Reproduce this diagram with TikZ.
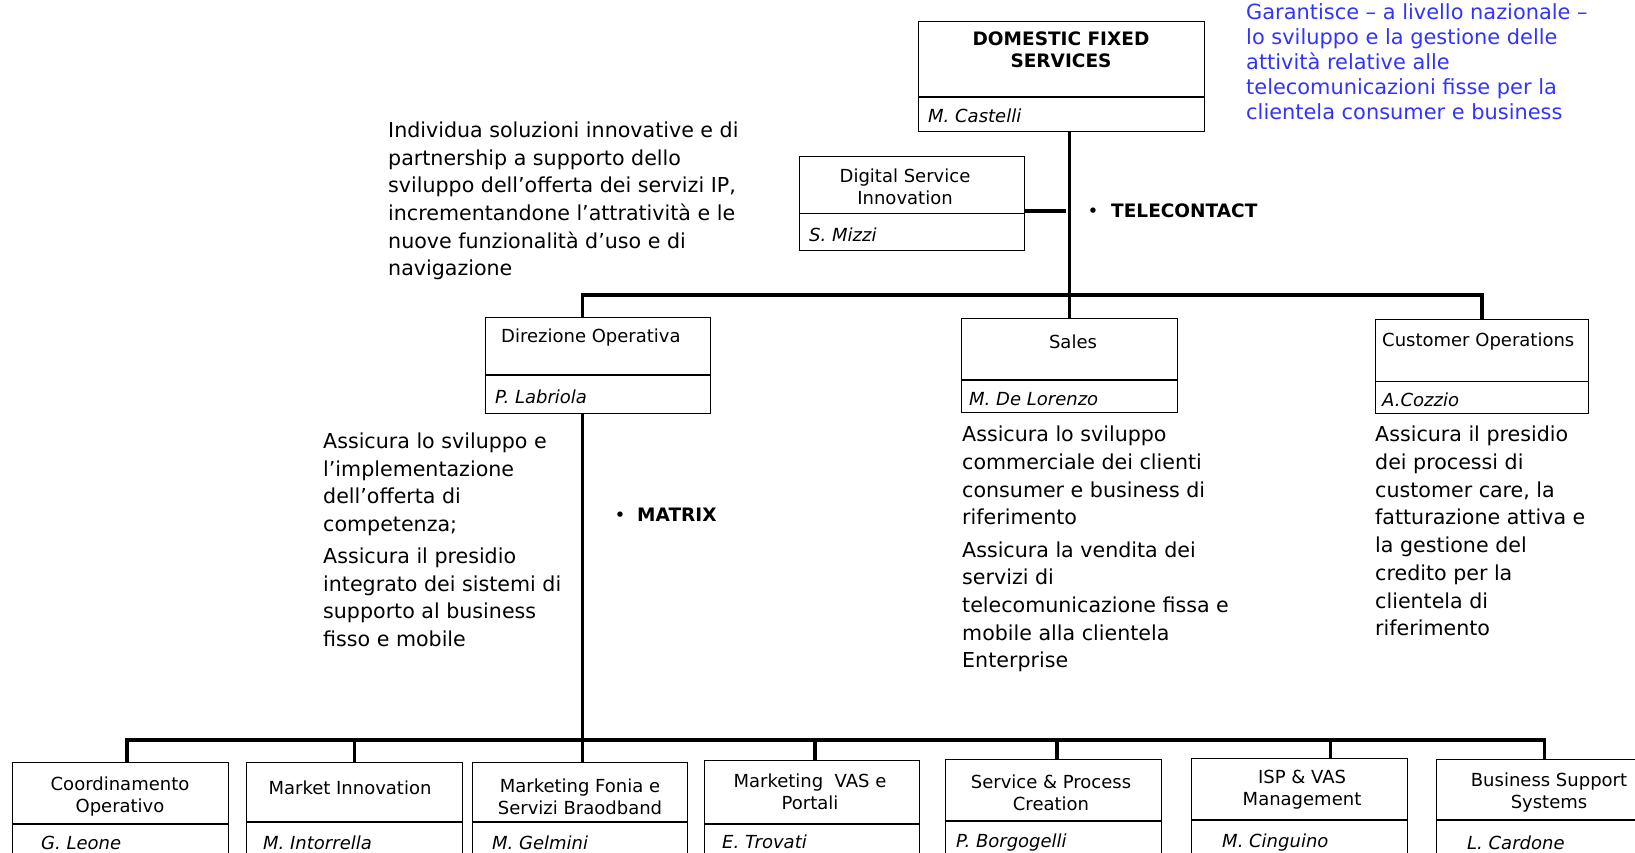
\documentclass[tikz,border=0pt]{standalone}
\usepackage{fontspec}
\setmainfont{DejaVu Sans}
\definecolor{notablue}{RGB}{51,51,255}

\begin{document}
\begin{tikzpicture}[x=1pt,y=-1pt,
  unit/.style={draw,line width=1.3pt,anchor=north west,inner sep=0pt,minimum width=216pt},
  rule/.style={line width=1.3pt},
  link/.style={line width=3.6pt},
  title/.style={font=\fontsize{18}{22}\selectfont,align=center,inner sep=0pt},
  who/.style={font=\fontsize{18}{22}\selectfont\itshape,anchor=west,inner sep=0pt},
  desc/.style={font=\fontsize{20.6}{27.7}\selectfont,align=left,anchor=north west,inner sep=0pt},
  tag/.style={font=\fontsize{18.5}{22}\selectfont\bfseries,anchor=west,inner sep=0pt}]
\useasboundingbox (0,0) rectangle (1635,852);
\clip (0,0) rectangle (1635,852);

% Top unit
\node[unit,minimum width=286pt,minimum height=110pt] (dfs) at (918,21) {};
\draw[rule] (918,97) -- (1204,97);
\node[title,font=\fontsize{18.5}{22}\selectfont\bfseries] (dfst) at (1061,49.5) {DOMESTIC FIXED\\SERVICES};
\node[who] (dfsn) at (928,115.5) {M. Castelli};
\node[desc,font=\fontsize{20.9}{25}\selectfont,text=notablue] (dfsd) at (1246,3.3)
  {Garantisce – a livello nazionale –\\lo sviluppo e la gestione delle\\attività relative alle\\telecomunicazioni fisse per la\\clientela consumer e business};

% Staff unit
\node[unit,minimum width=224.5pt,minimum height=94pt] (dsi) at (799,156) {};
\draw[rule] (799,213.5) -- (1023.5,213.5);
\node[title] (dsit) at (905,187) {Digital Service\\Innovation};
\node[who] (dsin) at (809,234.5) {S. Mizzi};
\node[desc] (dsid) at (388,121.6)
  {Individua soluzioni innovative e di\\partnership a supporto dello\\sviluppo dell’offerta dei servizi IP,\\incrementandone l’attratività e le\\nuove funzionalità d’uso e di\\navigazione};
\node[tag] (telecontact) at (1087.5,210.7) {{\mdseries\textbullet}\hspace{12.6pt}TELECONTACT};

% Second level
\node[unit,minimum width=225pt,minimum height=96pt] (diro) at (485,317) {};
\draw[rule] (485,375) -- (710,375);
\node[title,anchor=west] (dirot) at (501,338) {Direzione Operativa};
\node[who] (diron) at (495,397) {P. Labriola};
\node[desc,font=\fontsize{20.6}{27.4}\selectfont] (dirod) at (323,433)
  {Assicura lo sviluppo e\\l’implementazione\\dell’offerta di\\competenza;\\[5.5pt]Assicura il presidio\\integrato dei sistemi di\\supporto al business\\fisso e mobile};
\node[tag] (matrix) at (614.5,515) {{\mdseries\textbullet}\hspace{11.6pt}MATRIX};

\node[unit,minimum height=93.5pt] (sales) at (961,318) {};
\draw[rule] (961,380) -- (1177,380);
\node[title] (salest) at (1073,342) {Sales};
\node[who] (salesn) at (969,399) {M. De Lorenzo};
\node[desc] (salesd) at (962,426)
  {Assicura lo sviluppo\\commerciale dei clienti\\consumer e business di\\riferimento\\[4.5pt]Assicura la vendita dei\\servizi di\\telecomunicazione fissa e\\mobile alla clientela\\Enterprise};

\node[unit,minimum width=213pt,minimum height=94pt] (custops) at (1375,319) {};
\draw[rule] (1375,381.5) -- (1588,381.5);
\node[title,anchor=west] (custopst) at (1382,342) {Customer Operations};
\node[who] (custopsn) at (1382,400) {A.Cozzio};
\node[desc] (custopsd) at (1375,426)
  {Assicura il presidio\\dei processi di\\customer care, la\\fatturazione attiva e\\la gestione del\\credito per la\\clientela di\\riferimento};

% Third level
\node[unit,minimum height=100pt] (coord) at (11.5,762) {};
\draw[rule] (11.5,824) -- (227.5,824);
\node[title] (coordt) at (120,797) {Coordinamento\\Operativo};
\node[who] (coordn) at (41,842.5) {G. Leone};

\node[unit,minimum height=100pt] (mktinn) at (246,762) {};
\draw[rule] (246,822) -- (462,822);
\node[title] (mktinnt) at (350,788) {Market Innovation};
\node[who] (mktinnn) at (263,842.5) {M. Intorrella};

\node[unit,minimum width=215pt,minimum height=100pt] (fonia) at (472,762) {};
\draw[rule] (472,822) -- (687,822);
\node[title] (foniat) at (580,797) {Marketing Fonia e\\Servizi Braodband};
\node[who] (fonian) at (492,842.5) {M. Gelmini};

\node[unit,minimum width=215pt,minimum height=100pt] (vas) at (704,760) {};
\draw[rule] (704,824) -- (919,824);
\node[title] (vast) at (810,791.5) {Marketing\ \ VAS e\\Portali};
\node[who] (vasn) at (722,842) {E. Trovati};

\node[unit,minimum height=100pt] (service) at (945,759) {};
\draw[rule] (945,821) -- (1161,821);
\node[title] (servicet) at (1051,792.5) {Service \& Process\\Creation};
\node[who] (servicen) at (956,842.5) {P. Borgogelli};

\node[unit,minimum height=100pt] (isp) at (1191,758) {};
\draw[rule] (1191,820) -- (1407,820);
\node[title] (ispt) at (1302,790) {ISP \& VAS\\Management};
\node[who] (ispn) at (1222,842.5) {M. Cinguino};

\node[unit,minimum height=100pt] (bss) at (1436,759) {};
\draw[rule] (1436,820) -- (1652,820);
\node[title] (bsst) at (1549,792.5) {Business Support\\Systems};
\node[who] (bssn) at (1467,842.5) {L. Cardone};

% Connectors
\coordinate (tj) at (1066,210.7);
\coordinate (topbar) at (0,295);
\coordinate (lowbar) at (0,740);
\draw[link] (dfs.south -| sales.north) -- (sales.north);
\draw[link] (dsi.east |- tj) -- (tj);
\draw[link] ([xshift=-15.5pt]diro.north) |- (topbar -| custops.north) -- (custops.north);
\draw[link] ([xshift=-15.5pt]diro.south) -- ([xshift=-15.5pt]diro.south |- fonia.north);
\draw[link] ([xshift=7pt]coord.north) |- (lowbar -| bss.north) -- (bss.north);
\draw[link] (mktinn.north) -- (mktinn.north |- lowbar);
\draw[link] ([xshift=3pt]vas.north) -- ([xshift=3pt]vas.north |- lowbar);
\draw[link] ([xshift=3.5pt]service.north) -- ([xshift=3.5pt]service.north |- lowbar);
\draw[link] ([xshift=31pt]isp.north) -- ([xshift=31pt]isp.north |- lowbar);

\end{tikzpicture}
\end{document}
